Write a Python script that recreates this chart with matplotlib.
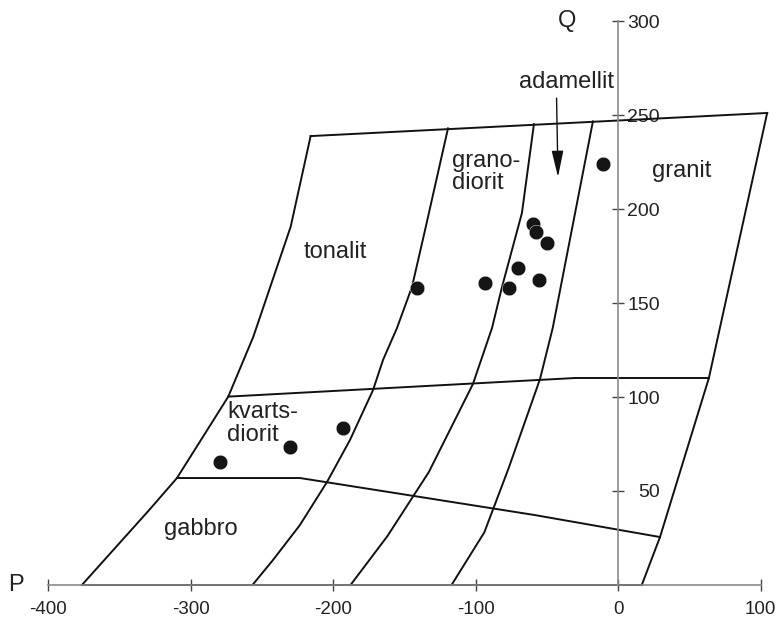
import matplotlib
matplotlib.use("Agg")
import matplotlib.pyplot as plt

plt.rcParams["font.family"] = ["Liberation Sans", "DejaVu Sans"]
plt.rcParams["axes.unicode_minus"] = False

# field boundaries (P, Q)
top_P = [-215.9, 104.5]
top_Q = [238.8, 251.1]
left_P = [-376.4, -328.6, -309.7, -273.7, -256.1, -229.9, -215.9]
left_Q = [0, 40.4, 56.9, 100.2, 132.1, 190.6, 238.8]
b1_P = [-256.7, -242.3, -223.4, -204.4, -188.3, -172.1, -165.1, -155.3, -144.8, -135.6, -119.5]
b1_Q = [0, 13.3, 31.9, 54.8, 77.1, 103.7, 119.7, 136.7, 158.5, 188.8, 242.9]
b2_P = [-187.9, -162.0, -133.0, -102.0, -88.6, -81.6, -67.6, -59.2]
b2_Q = [0, 26.0, 60.0, 106.9, 136.7, 158.5, 197.9, 245.1]
b3_P = [-117.0, -94.0, -77.0, -54.9, -46.0, -17.8]
b3_Q = [0, 28.0, 62.0, 109.6, 136.7, 246.6]
right_P = [16.5, 29.3, 63.6, 104.5]
right_Q = [0, 25.5, 110.1, 251.1]
mid_P = [-273.7, -30.4, 63.6]
mid_Q = [100.2, 110.1, 110.1]
gab_P = [-309.7, -223.4, -58.6, 29.3]
gab_Q = [56.9, 56.9, 37.2, 25.5]
base_P = [-376.4, 16.5]
base_Q = [0, 0]

# samples
pts_P = [-279.5, -230.4, -193.2, -141.5, -93.5, -76.5, -70.2, -55.4, -59.6, -58.0, -50.2, -10.5]
pts_Q = [65.4, 73.4, 83.5, 157.8, 160.8, 158.1, 168.8, 162.2, 191.9, 187.6, 182.1, 223.9]

# field names
names = ["tonalit", "grano-", "diorit", "granit", "kvarts-", "diorit", "gabbro"]
name_P = [-220.5, -116.5, -116.5, 24.0, -274.5, -274.5, -318.5]
name_Q = [173.8, 222.6, 210.4, 217.2, 88.6, 76.4, 26.6]

x_ticks = [-400, -300, -200, -100, 0, 100]
y_ticks = [50, 100, 150, 200, 250, 300]

fig = plt.figure(figsize=(7.76, 6.19), dpi=100)
ax = fig.add_axes([0, 0, 1, 1])
ax.set_xlim(-433.9, 110.7)
ax.set_ylim(-18.1, 311.2)

axis_col = "#8a8a8a"
for s in ["left", "top"]:
    ax.spines[s].set_visible(False)
ax.spines["bottom"].set_position(("data", 0))
ax.spines["right"].set_position(("data", 0))
ax.spines["bottom"].set_bounds(-400, 100)
ax.spines["right"].set_bounds(0, 300)
for s in ["bottom", "right"]:
    ax.spines[s].set_color(axis_col)
    ax.spines[s].set_linewidth(1.2)

ax.set_xticks(x_ticks)
ax.set_yticks(y_ticks)
ax.yaxis.tick_right()
ax.tick_params(axis="x", direction="inout", length=8, width=1, color="#444444",
               labelsize=13.5, pad=7.5, labelcolor="#222222")
ax.tick_params(axis="y", direction="inout", length=8, width=1, color="#444444",
               labelsize=14, pad=26, labelcolor="#222222")
for lab in ax.get_yticklabels():
    lab.set_horizontalalignment("right")
for lab in ax.get_xticklabels()[-1:]:
    lab.set_x(98.5)

lw = 1.4
for xs, ys in [(top_P, top_Q), (left_P, left_Q), (b1_P, b1_Q), (b2_P, b2_Q),
               (b3_P, b3_Q), (right_P, right_Q), (mid_P, mid_Q), (gab_P, gab_Q),
               (base_P, base_Q)]:
    ax.plot(xs, ys, color="#111111", lw=lw, solid_joinstyle="miter")

ax.plot(pts_P, pts_Q, "o", color="#151515", markersize=10.5,
        markeredgecolor="white", markeredgewidth=0.3, zorder=5)

for t, x, y in zip(names, name_P, name_Q):
    ax.text(x, y, t, fontsize=17, ha="left", va="baseline", color="#222222")

ax.text(-36, 264.5, "adamellit", fontsize=17, ha="center", va="baseline", color="#222222")
ax.annotate("", xy=(-42.3, 217), xytext=(-43.3, 259),
            arrowprops=dict(arrowstyle="-|>,head_length=0.9,head_width=0.2",
                            color="#111111", lw=1, mutation_scale=18, shrinkA=0, shrinkB=0))

ax.text(-36, 300, "Q", fontsize=17, ha="center", va="center", color="#222222")
ax.text(-423, 0, "P", fontsize=17, ha="center", va="center", color="#222222")

fig.savefig("out.png", dpi=100)
